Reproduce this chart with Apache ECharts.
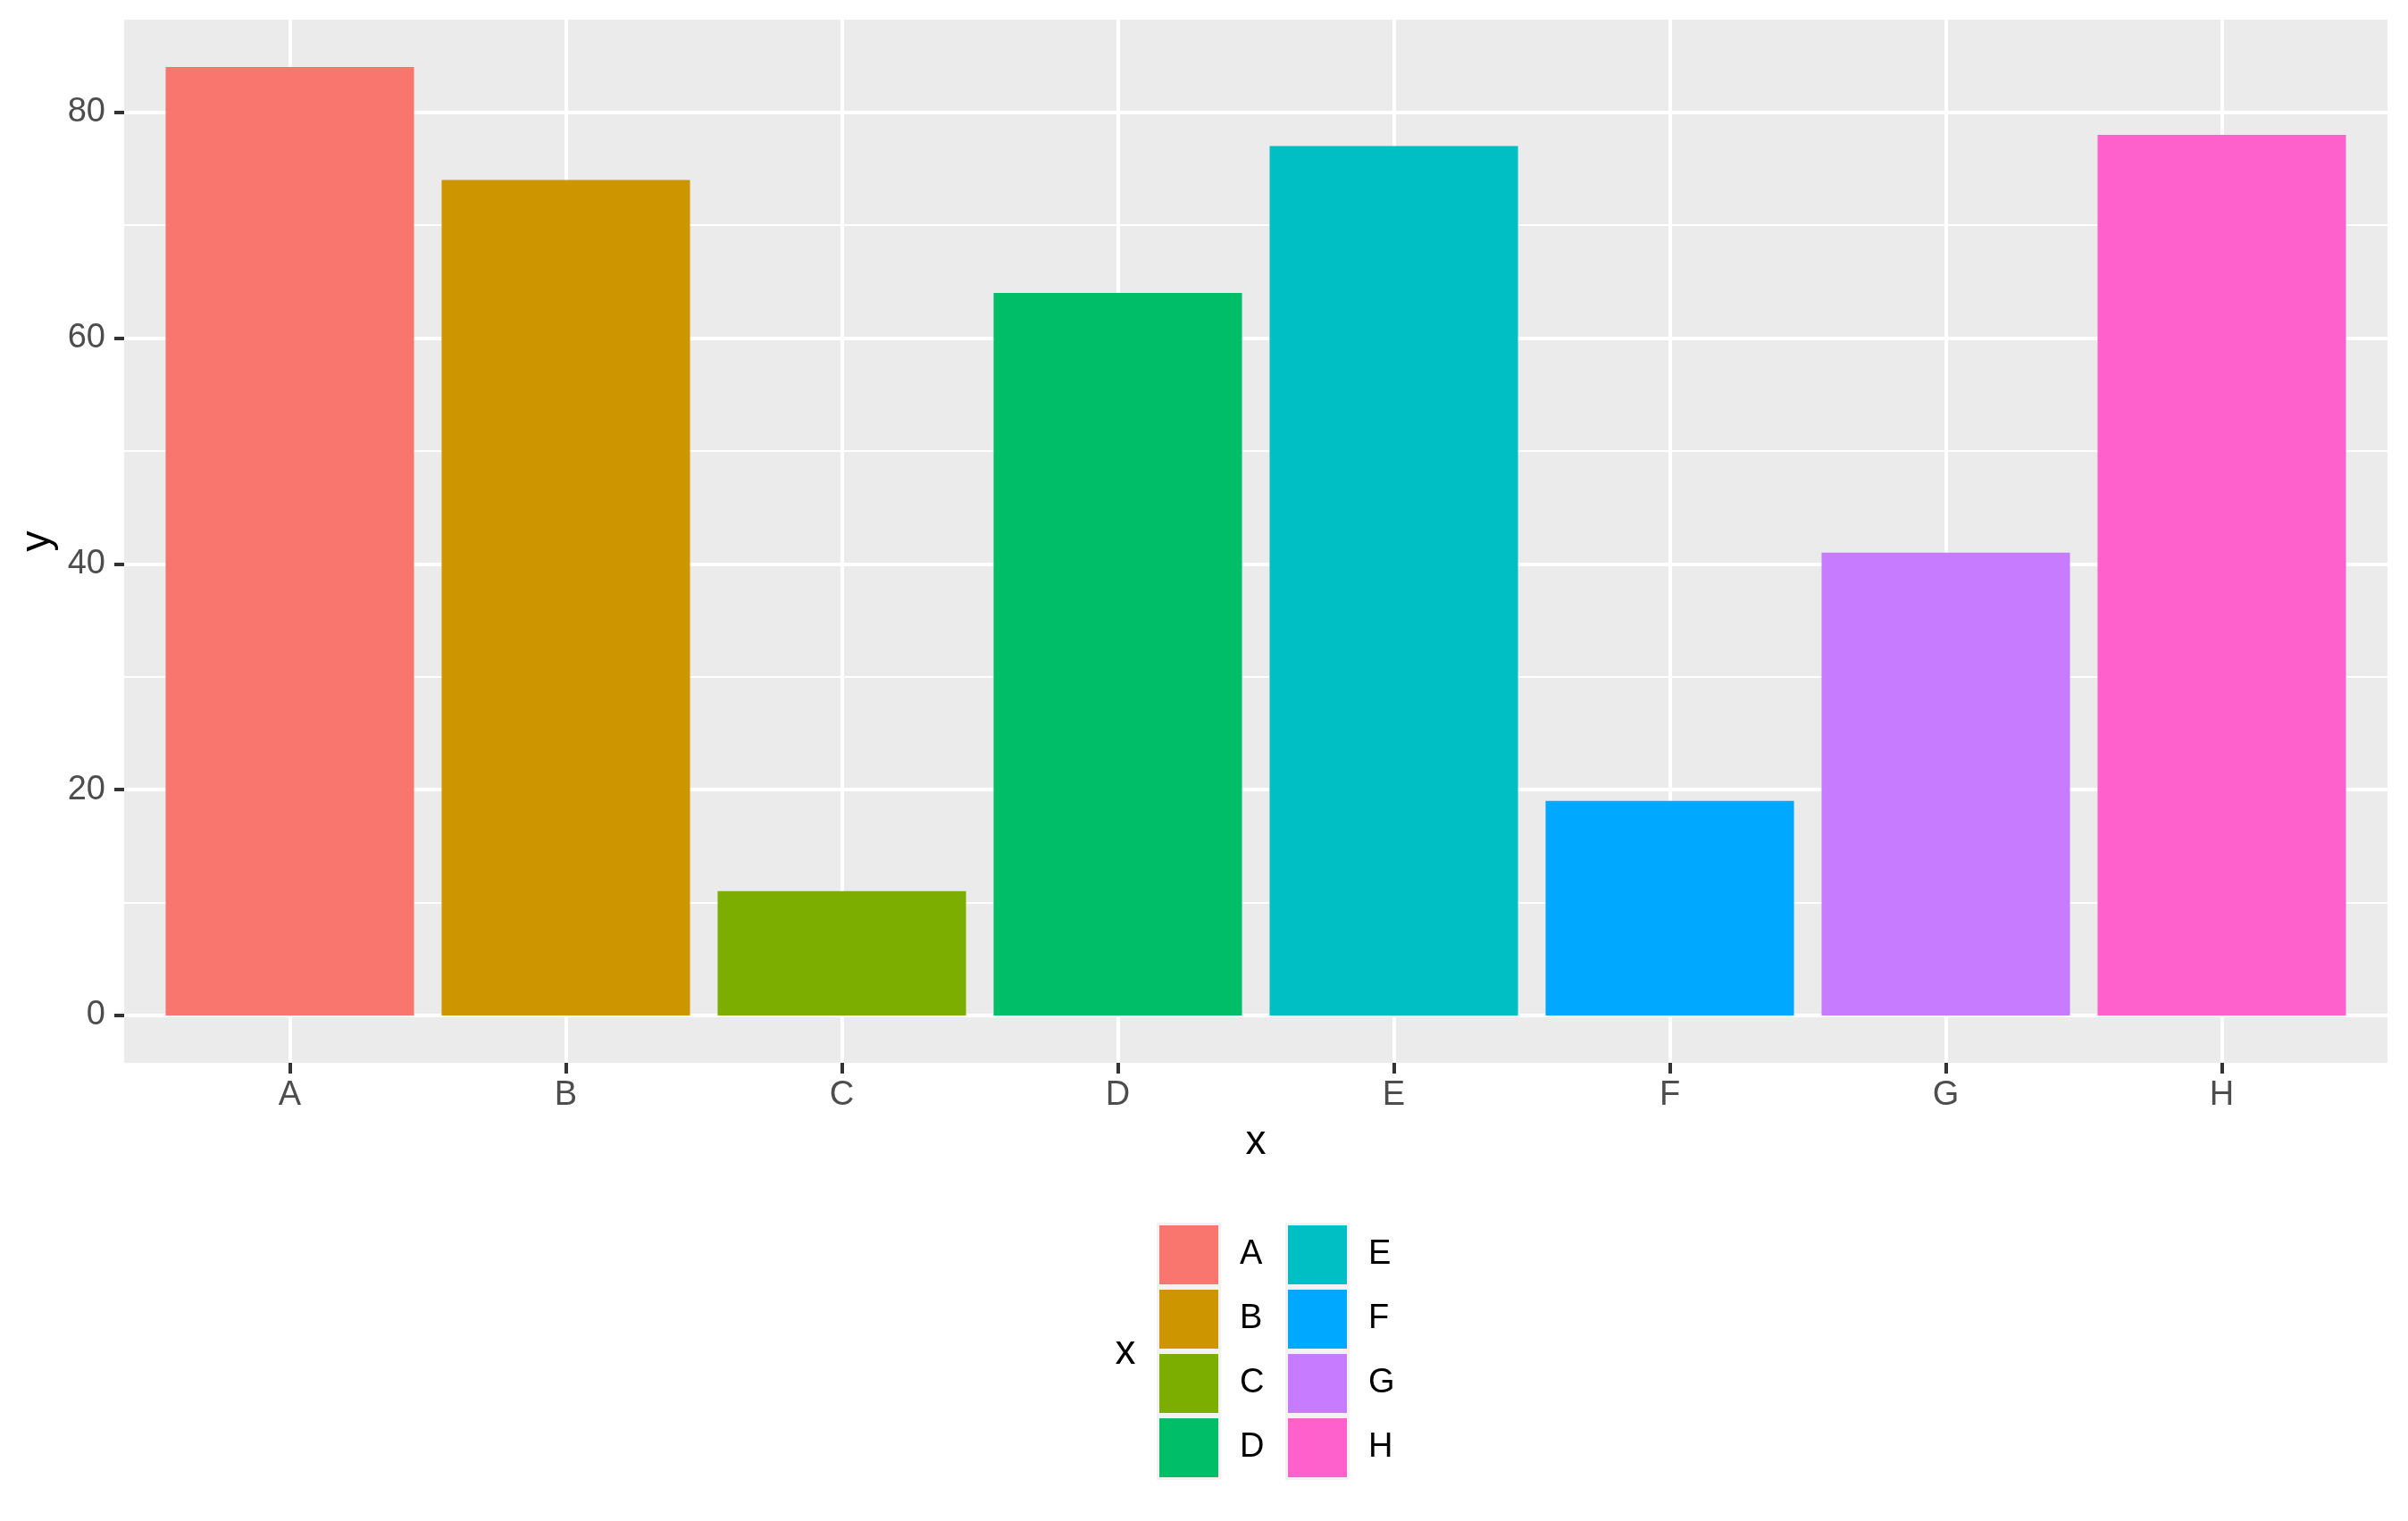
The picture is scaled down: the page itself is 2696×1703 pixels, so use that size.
<!DOCTYPE html>
<html>
<head>
<meta charset="utf-8">
<script src="https://cdn.jsdelivr.net/npm/echarts@6/dist/echarts.min.js"></script>
<style>
  html, body { margin: 0; padding: 0; background: #fff; }
  #chart { width: 2696px; height: 1703px; }
</style>
</head>
<body>
<div id="chart"></div>
<script>
// data
const categories = ['A', 'B', 'C', 'D', 'E', 'F', 'G', 'H'];
const values = [84, 74, 11, 64, 77, 19, 41, 78];
const palette = ['#F8766D', '#CD9600', '#7CAE00', '#00BE67', '#00BFC4', '#00A9FF', '#C77CFF', '#FF61CC'];
const yMin = -4.2;
const yMax = 88.2;

const FONT = 'Liberation Sans, Arial, sans-serif';
const clear = 'rgba(0,0,0,0)';

const chart = echarts.init(document.getElementById('chart'));

// one series per category so every bar gets its own legend entry
const series = categories.map((name, i) => ({
  name: name,
  type: 'bar',
  xAxisIndex: 1,
  yAxisIndex: 2,
  stack: 'all',
  barWidth: '90%',
  itemStyle: { color: palette[i] },
  data: categories.map((c, j) => (j === i ? values[i] : null))
}));

const legendBase = {
  orient: 'vertical',
  top: 1372,
  padding: 0,
  itemWidth: 66,
  itemHeight: 66,
  itemGap: 6,
  icon: 'rect',
  selectedMode: false,
  textStyle: { fontFamily: FONT, fontSize: 38, color: '#000', padding: [6, 0, 0, 19] }
};

const option = {
  animation: false,
  backgroundColor: '#fff',
  grid: [
    // full ggplot panel (background + horizontal grid lines)
    { left: 139, top: 22, width: 2534, height: 1168, show: true, backgroundColor: '#EBEBEB', borderWidth: 0 },
    // bar area, inset by 0.6 band on each side
    { left: 170, top: 22, width: 2472, height: 1168 }
  ],
  xAxis: [
    { type: 'value', gridIndex: 0, show: false },
    {
      type: 'category',
      gridIndex: 1,
      position: 'bottom',
      data: categories,
      boundaryGap: true,
      axisLine: { show: true, onZero: false, lineStyle: { color: clear, width: 0 } },
      axisTick: { show: true, alignWithLabel: true, length: 12, lineStyle: { color: '#333333', width: 4 } },
      axisLabel: { fontFamily: FONT, fontSize: 38, color: '#4D4D4D', margin: 18 },
      splitLine: { show: true, alignWithLabel: true, lineStyle: { color: '#fff', width: 4 } },
      name: 'x',
      nameLocation: 'middle',
      nameGap: 66,
      nameTextStyle: { fontFamily: FONT, fontSize: 46, color: '#000' }
    }
  ],
  yAxis: [
    {
      // minor lines
      type: 'value',
      gridIndex: 0,
      min: yMin,
      max: yMax,
      minInterval: 10,
      maxInterval: 10,
      splitNumber: 10,
      position: 'left',
      axisLine: { show: false },
      axisTick: { show: false },
      axisLabel: { show: false },
      splitLine: {
        show: true,
        lineStyle: { width: 2, color: [clear, '#fff', '#fff', '#fff', '#fff', '#fff', '#fff', '#fff', '#fff', '#fff', clear] }
      }
    },
    {
      // major lines, ticks and labels
      type: 'value',
      gridIndex: 0,
      min: yMin,
      max: yMax,
      minInterval: 20,
      maxInterval: 20,
      splitNumber: 5,
      position: 'left',
      offset: 0,
      axisLine: { show: false },
      axisTick: { show: true, length: 11, lineStyle: { color: '#333333', width: 4 } },
      axisLabel: {
        fontFamily: FONT, fontSize: 38, color: '#4D4D4D', margin: 21,
        showMinLabel: false, showMaxLabel: false
      },
      splitLine: {
        show: true,
        lineStyle: { width: 4, color: [clear, '#fff', '#fff', '#fff', '#fff', '#fff', clear] }
      },
      name: 'y',
      nameLocation: 'middle',
      nameGap: 66,
      nameTextStyle: { fontFamily: FONT, fontSize: 46, color: '#000' }
    },
    { type: 'value', gridIndex: 1, min: yMin, max: yMax, show: false }
  ],
  legend: [
    Object.assign({}, legendBase, { left: 1298, data: categories.slice(0, 4) }),
    Object.assign({}, legendBase, { left: 1442, data: categories.slice(4) })
  ],
  graphic: [
    { type: 'rect', shape: { x: 1295, y: 1369, width: 72, height: 288 }, style: { fill: '#F2F2F2' }, z: 0 },
    { type: 'rect', shape: { x: 1439, y: 1369, width: 72, height: 288 }, style: { fill: '#F2F2F2' }, z: 0 },
    {
      type: 'text', x: 1260, y: 1514, z: 1,
      style: { text: 'x', fontFamily: FONT, fontSize: 46, fill: '#000', align: 'center', verticalAlign: 'middle' }
    }
  ],
  series: series
};

chart.setOption(option);
</script>
</body>
</html>
